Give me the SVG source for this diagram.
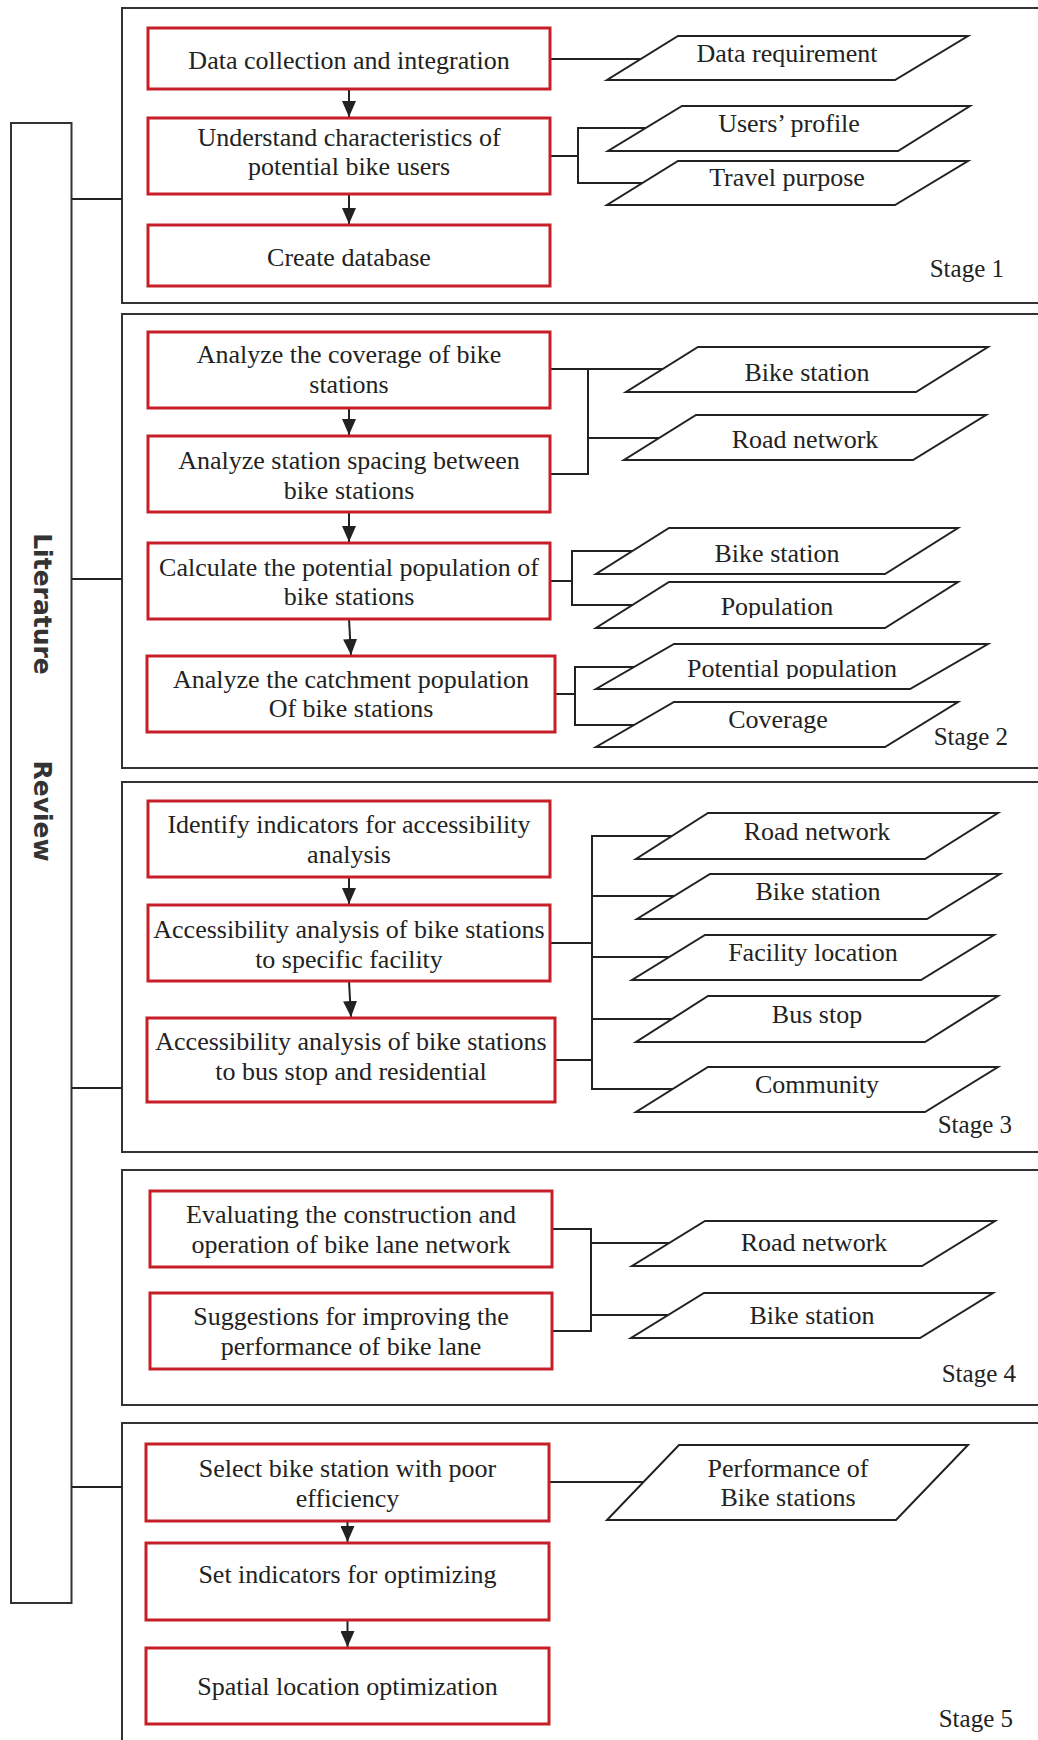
<svg xmlns="http://www.w3.org/2000/svg" width="1038" height="1740" viewBox="0 0 1038 1740">
<defs>
<style>
.stage{fill:none;stroke:#333;stroke-width:2}
.lit{fill:none;stroke:#333;stroke-width:2}
.proc{fill:#fff;stroke:#c81e28;stroke-width:3}
.data{fill:#fff;stroke:#222;stroke-width:2;stroke-linejoin:miter}
.t{font-family:"Liberation Serif","Times New Roman",serif;font-size:26px;fill:#222;text-anchor:middle}
.st{font-family:"Liberation Serif","Times New Roman",serif;font-size:25px;fill:#222;text-anchor:end}
.lt{font-family:"DejaVu Sans",sans-serif;font-weight:bold;font-size:25px;fill:#333;text-anchor:middle}
.conn line,.conn polyline{fill:none;stroke:#222;stroke-width:2}
.arr{stroke:#222;stroke-width:2;marker-end:url(#ah)}
</style>
<marker id="ah" viewBox="0 0 16 14" refX="16" refY="7" markerWidth="16" markerHeight="14" markerUnits="userSpaceOnUse" orient="auto">
<path d="M0,0 L16,7 L0,14 z" fill="#222"/>
</marker>
<clipPath id="clipPot"><rect x="600" y="640" width="400" height="39"/></clipPath>
<clipPath id="clipPop"><rect x="600" y="585" width="380" height="33"/></clipPath>
</defs>

<g id="literature-review">
<rect class="lit" x="11" y="123" width="60.5" height="1480"/>
<text class="lt" x="34" y="604" transform="rotate(90 34 604)">Literature</text>
<text class="lt" x="34" y="811" transform="rotate(90 34 811)">Review</text>
</g>

<g id="stage1">
<rect class="stage" x="122" y="8" width="930" height="295"/>
<text class="st" x="1004" y="277">Stage 1</text>
</g>
<g id="stage2">
<rect class="stage" x="122" y="314" width="930" height="454"/>
<text class="st" x="1008" y="745">Stage 2</text>
</g>
<g id="stage3">
<rect class="stage" x="122" y="782" width="930" height="370"/>
<text class="st" x="1012" y="1133">Stage 3</text>
</g>
<g id="stage4">
<rect class="stage" x="122" y="1170" width="930" height="235"/>
<text class="st" x="1016" y="1382">Stage 4</text>
</g>
<g id="stage5">
<rect class="stage" x="122" y="1423" width="930" height="340"/>
<text class="st" x="1013" y="1727">Stage 5</text>
</g>

<g id="connectors" class="conn">
<!-- literature links -->
<line x1="71.5" y1="199" x2="122" y2="199"/>
<line x1="71.5" y1="579" x2="122" y2="579"/>
<line x1="71.5" y1="1088" x2="122" y2="1088"/>
<line x1="71.5" y1="1487" x2="122" y2="1487"/>
<!-- stage 1 -->
<line class="arr" x1="349" y1="89" x2="349" y2="117"/>
<line class="arr" x1="349" y1="194" x2="349" y2="224"/>
<line x1="550" y1="59" x2="642" y2="59"/>
<line x1="550" y1="156" x2="578" y2="156"/>
<line x1="578" y1="128" x2="578" y2="183"/>
<line x1="577" y1="128" x2="646" y2="128"/>
<line x1="577" y1="183" x2="642" y2="183"/>
<!-- stage 2 -->
<line class="arr" x1="349" y1="408" x2="349" y2="435"/>
<line class="arr" x1="349" y1="512" x2="349" y2="542"/>
<line class="arr" x1="349" y1="619" x2="351" y2="655"/>
<line x1="550" y1="369" x2="663" y2="369"/>
<polyline points="550,474 588,474 588,369"/>
<line x1="588" y1="438" x2="659" y2="438"/>
<line x1="550" y1="581" x2="572" y2="581"/>
<line x1="572" y1="551" x2="572" y2="605"/>
<line x1="571" y1="551" x2="633" y2="551"/>
<line x1="571" y1="605" x2="633" y2="605"/>
<line x1="555" y1="694" x2="575" y2="694"/>
<line x1="575" y1="667" x2="575" y2="725"/>
<line x1="574" y1="667" x2="634" y2="667"/>
<line x1="574" y1="725" x2="634" y2="725"/>
<!-- stage 3 -->
<line class="arr" x1="349" y1="877" x2="349" y2="904"/>
<line class="arr" x1="349" y1="981" x2="351" y2="1017"/>
<line x1="550" y1="943" x2="592" y2="943"/>
<line x1="555" y1="1060" x2="592" y2="1060"/>
<line x1="592" y1="836" x2="592" y2="1089"/>
<line x1="591" y1="836" x2="672" y2="836"/>
<line x1="591" y1="896" x2="674" y2="896"/>
<line x1="591" y1="957" x2="669" y2="957"/>
<line x1="591" y1="1019" x2="672" y2="1019"/>
<line x1="591" y1="1089" x2="673" y2="1089"/>
<!-- stage 4 -->
<line x1="552" y1="1229" x2="591" y2="1229"/>
<line x1="552" y1="1331" x2="591" y2="1331"/>
<line x1="591" y1="1228" x2="591" y2="1332"/>
<line x1="591" y1="1243" x2="669" y2="1243"/>
<line x1="591" y1="1315" x2="668" y2="1315"/>
<!-- stage 5 -->
<line class="arr" x1="347.5" y1="1521" x2="347.5" y2="1542"/>
<line class="arr" x1="347.5" y1="1620" x2="347.5" y2="1647"/>
<line x1="549" y1="1482" x2="644" y2="1482"/>
</g>

<!-- Stage 1 nodes -->
<g id="n-data-collection"><rect class="proc" x="148" y="28" width="402" height="61"/><text class="t" x="349" y="69">Data collection and integration</text></g>
<g id="n-understand"><rect class="proc" x="148" y="118" width="402" height="76"/><text class="t" x="349" y="146">Understand characteristics of</text><text class="t" x="349" y="175">potential bike users</text></g>
<g id="n-create-db"><rect class="proc" x="148" y="225" width="402" height="61"/><text class="t" x="349" y="266">Create database</text></g>
<g id="d-data-req"><polygon class="data" points="678,36 968,36 895,80 607,80"/><text class="t" x="787" y="62">Data requirement</text></g>
<g id="d-users-profile"><polygon class="data" points="682,106 970,106 898,151 608,151"/><text class="t" x="789" y="132">Users’ profile</text></g>
<g id="d-travel-purpose"><polygon class="data" points="678,161 968,161 895,205 607,205"/><text class="t" x="787" y="186">Travel purpose</text></g>

<!-- Stage 2 nodes -->
<g id="n-coverage"><rect class="proc" x="148" y="332" width="402" height="76"/><text class="t" x="349" y="363">Analyze the coverage of bike</text><text class="t" x="349" y="393">stations</text></g>
<g id="n-spacing"><rect class="proc" x="148" y="436" width="402" height="76"/><text class="t" x="349" y="469">Analyze station spacing between</text><text class="t" x="349" y="499">bike stations</text></g>
<g id="n-potential"><rect class="proc" x="148" y="543" width="402" height="76"/><text class="t" x="349" y="576">Calculate the potential population of</text><text class="t" x="349" y="605">bike stations</text></g>
<g id="n-catchment"><rect class="proc" x="147" y="656" width="408" height="76"/><text class="t" x="351" y="688">Analyze the catchment population</text><text class="t" x="351" y="717">Of bike stations</text></g>
<g id="d-bike-station-2a"><polygon class="data" points="698,347 988,347 916,392 626,392"/><text class="t" x="807" y="381">Bike station</text></g>
<g id="d-road-network-2"><polygon class="data" points="696,415 986,415 913,460 624,460"/><text class="t" x="805" y="448">Road network</text></g>
<g id="d-bike-station-2b"><polygon class="data" points="669,528 958,528 885,574 596,574"/><text class="t" x="777" y="562">Bike station</text></g>
<g id="d-population"><polygon class="data" points="669,582 958,582 885,628 596,628"/><text class="t" x="777" y="615" clip-path="url(#clipPop)">Population</text></g>
<g id="d-potential-pop"><polygon class="data" points="674,644 988,644 910,689 596,689"/><text class="t" x="792" y="677" clip-path="url(#clipPot)">Potential population</text></g>
<g id="d-coverage"><polygon class="data" points="674,702 958,702 885,747 596,747"/><text class="t" x="778" y="728">Coverage</text></g>

<!-- Stage 3 nodes -->
<g id="n-indicators"><rect class="proc" x="148" y="801" width="402" height="76"/><text class="t" x="349" y="833">Identify indicators for accessibility</text><text class="t" x="349" y="863">analysis</text></g>
<g id="n-access-facility"><rect class="proc" x="148" y="905" width="402" height="76"/><text class="t" x="349" y="938">Accessibility analysis of bike stations</text><text class="t" x="349" y="968">to specific facility</text></g>
<g id="n-access-bus"><rect class="proc" x="147" y="1018" width="408" height="84"/><text class="t" x="351" y="1050">Accessibility analysis of bike stations</text><text class="t" x="351" y="1080">to bus stop and residential</text></g>
<g id="d-road-network-3"><polygon class="data" points="708,813 998,813 925,859 636,859"/><text class="t" x="817" y="840">Road network</text></g>
<g id="d-bike-station-3"><polygon class="data" points="710,874 1000,874 927,919 637,919"/><text class="t" x="818" y="900">Bike station</text></g>
<g id="d-facility"><polygon class="data" points="705,935 994,935 921,980 632,980"/><text class="t" x="813" y="961">Facility location</text></g>
<g id="d-bus-stop"><polygon class="data" points="708,996 998,996 925,1042 636,1042"/><text class="t" x="817" y="1023">Bus stop</text></g>
<g id="d-community"><polygon class="data" points="708,1067 998,1067 925,1112 636,1112"/><text class="t" x="817" y="1093">Community</text></g>

<!-- Stage 4 nodes -->
<g id="n-evaluating"><rect class="proc" x="150" y="1191" width="402" height="76"/><text class="t" x="351" y="1223">Evaluating the construction and</text><text class="t" x="351" y="1253">operation of bike lane network</text></g>
<g id="n-suggestions"><rect class="proc" x="150" y="1293" width="402" height="76"/><text class="t" x="351" y="1325">Suggestions for improving the</text><text class="t" x="351" y="1355">performance of bike lane</text></g>
<g id="d-road-network-4"><polygon class="data" points="705,1221 995,1221 922,1266 632,1266"/><text class="t" x="814" y="1251">Road network</text></g>
<g id="d-bike-station-4"><polygon class="data" points="704,1293 993,1293 920,1338 631,1338"/><text class="t" x="812" y="1324">Bike station</text></g>

<!-- Stage 5 nodes -->
<g id="n-select"><rect class="proc" x="146" y="1444" width="403" height="77"/><text class="t" x="347.5" y="1477">Select bike station with poor</text><text class="t" x="347.5" y="1507">efficiency</text></g>
<g id="n-set-indicators"><rect class="proc" x="146" y="1543" width="403" height="77"/><text class="t" x="347.5" y="1583">Set indicators for optimizing</text></g>
<g id="n-spatial"><rect class="proc" x="146" y="1648" width="403" height="76"/><text class="t" x="347.5" y="1695">Spatial location optimization</text></g>
<g id="d-performance"><polygon class="data" points="679,1445 968,1445 896,1520 607,1520"/><text class="t" x="788" y="1477">Performance of</text><text class="t" x="788" y="1506">Bike stations</text></g>
</svg>
